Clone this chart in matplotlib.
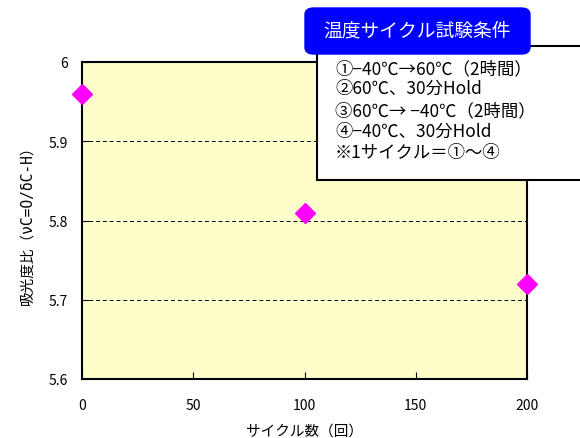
import matplotlib
matplotlib.use("Agg")
import matplotlib.pyplot as plt
from matplotlib.patches import Rectangle, FancyBboxPatch

plt.rcParams['font.family'] = ['Noto Sans CJK JP', 'DejaVu Sans']

cycles = [0, 100, 200]
ratio = [5.96, 5.81, 5.72]
xticks = [0, 50, 100, 150, 200]
yticks = [5.6, 5.7, 5.8, 5.9, 6.0]
ytick_labels = ["5.6", "5.7", "5.8", "5.9", "6"]
title_text = "温度サイクル試験条件"
cond_lines = ["①−40℃→60℃（2時間）", "②60℃、30分Hold", "③60℃→ −40℃（2時間）",
              "④−40℃、30分Hold", "※1サイクル＝①～④"]

fig = plt.figure(figsize=(5.8, 4.39), dpi=100)
ax = fig.add_axes([82/580, 1-380/439, 445/580, 317/439])
ax.set_facecolor('#FFFFCC')
ax.plot(cycles, ratio, linestyle='none', marker='D', ms=10, color='#FF00FF', clip_on=False, zorder=5)
ax.set_xlim(0, 200)
ax.set_ylim(5.6, 6.0)
ax.set_xticks(xticks)
ax.set_yticks(yticks)
ax.set_yticklabels(ytick_labels)
for y in [5.7, 5.8, 5.9]:
    ax.axhline(y, color='black', lw=0.7, ls=(0, (4, 3)), zorder=1)
for s in ax.spines.values():
    s.set_linewidth(1.5)
ax.tick_params(direction='in', length=5, labelsize=10, pad=14)
ax.tick_params(axis='y', pad=10)
ax.set_xlabel("サイクル数（回）", fontsize=10.5, labelpad=8)
ax.set_ylabel("吸光度比（νC=O/δC-H）", fontsize=10.5, labelpad=10,
              family=['DejaVu Sans Mono', 'Noto Sans CJK JP'])

# condition box
box = Rectangle((317/580, 1-181/439), 280/580, 134/439, transform=fig.transFigure,
                facecolor='white', edgecolor='black', lw=1.5, zorder=10)
fig.patches.append(box)
tb = FancyBboxPatch((305/580, 1-55/439), 225/580, 46/439, transform=fig.transFigure,
                    boxstyle="round,pad=0,rounding_size=0.015",
                    facecolor='#0000FF', edgecolor='#0000FF', lw=1, zorder=11)
fig.patches.append(tb)
fig.text(417/580, 1-31/439, title_text, color='white', fontsize=13.5, ha='center', va='center', zorder=12)
ys = [69, 89, 111, 132, 153]
for yy, t in zip(ys, cond_lines):
    fig.text(335/580, 1-yy/439, t, fontsize=12.5, ha='left', va='center', zorder=12)

fig.savefig("out.png", dpi=100)
